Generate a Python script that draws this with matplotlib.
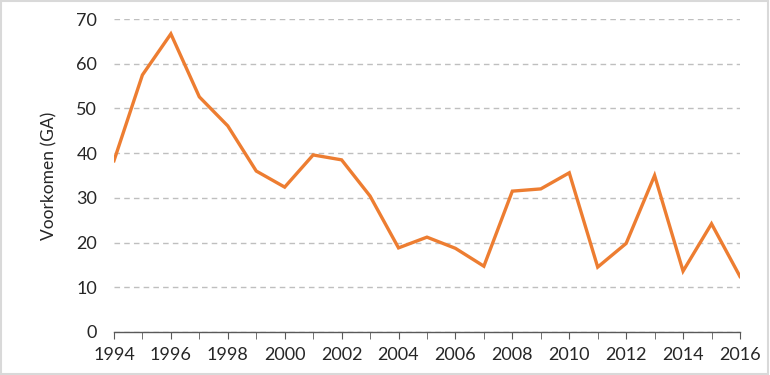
import matplotlib.pyplot as plt
from matplotlib.patches import Rectangle

# ---- data ----
years = list(range(1994, 2017))
voorkomen = [38.3, 57.5, 66.7, 52.6, 46.1, 36.0, 32.4, 39.6, 38.5, 30.4,
             18.8, 21.2, 18.7, 14.7, 31.5, 32.0, 35.6, 14.5, 19.8, 35.0,
             13.6, 24.2, 12.4]
x_labels = list(range(1994, 2017, 2))
y_ticks = list(range(0, 80, 10))

plt.rcParams['font.family'] = ['Lato', 'DejaVu Sans']

fig = plt.figure(figsize=(7.7, 3.75), dpi=100)
ax = fig.add_axes([0.148, 0.115, 0.813, 0.834])

ax.plot(years, voorkomen, color='#ED7D31', linewidth=2.4, solid_joinstyle='miter')

ax.set_xlim(1994, 2016)
ax.set_ylim(0, 70)
ax.set_yticks(y_ticks)
ax.set_xticks(years, minor=True)
ax.set_xticks(x_labels)
ax.set_xticklabels([str(y) for y in x_labels])

ax.yaxis.grid(True, linestyle=(0, (4, 3)), color='#bfbfbf', linewidth=1)
ax.set_axisbelow(True)

for side in ['top', 'right', 'left']:
    ax.spines[side].set_visible(False)
ax.spines['bottom'].set_color('#595959')
ax.spines['bottom'].set_linewidth(1)

ax.tick_params(axis='y', length=0, pad=12, labelsize=13, labelcolor='#262626')
ax.tick_params(axis='x', which='both', direction='out', length=5, color='#595959',
               labelsize=13, labelcolor='#262626', pad=6)

ax.set_ylabel('Voorkomen (GA)', fontsize=12.5, color='#262626', labelpad=14)

# light frame round the picture
fig.patches.append(Rectangle((0.001, 0.002), 0.997, 0.995, transform=fig.transFigure,
                             fill=False, edgecolor='#d9d9d9', linewidth=1.5))

fig.savefig('out.png', dpi=100)
